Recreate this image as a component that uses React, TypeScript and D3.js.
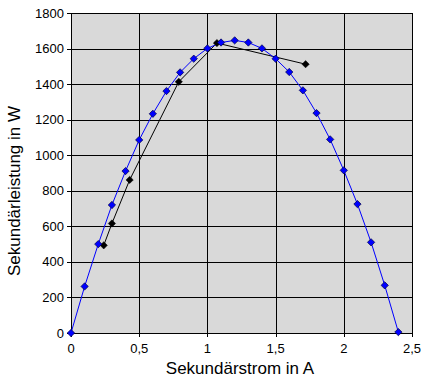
import React from "react";
import * as d3 from "d3";

// Blue series: measured secondary power over current
const blueCurrent = [0, 0.1, 0.2, 0.3, 0.4, 0.5, 0.6, 0.7, 0.8, 0.9, 1.0, 1.1, 1.2, 1.3, 1.4, 1.5, 1.6, 1.7, 1.8, 1.9, 2.0, 2.1, 2.2, 2.3, 2.4];
const bluePower = [0, 262, 500, 720, 911, 1086, 1233, 1361, 1466, 1543, 1601, 1634, 1646, 1634, 1601, 1543, 1468, 1365, 1237, 1089, 915, 725, 510, 268, 5];

// Black series
const blackCurrent = [0.24, 0.3, 0.43, 0.79, 1.07, 1.72];
const blackPower = [493, 616, 861, 1413, 1631, 1512];

const xTicks = [0, 0.5, 1, 1.5, 2, 2.5];
const yTicks = [0, 200, 400, 600, 800, 1000, 1200, 1400, 1600, 1800];

export default function App() {
    const width = 427;
    const height = 382;
    const left = 71;
    const right = 412;
    const top = 13;
    const bottom = 333;

    const x = d3.scaleLinear().domain([0, 2.5]).range([left, right]);
    const y = d3.scaleLinear().domain([0, 1800]).range([bottom, top]);

    const blue = blueCurrent.map((c, i) => [c, bluePower[i]]);
    const black = blackCurrent.map((c, i) => [c, blackPower[i]]);

    const line = d3
        .line()
        .x((d) => x(d[0]))
        .y((d) => y(d[1]));

    const diamond = d3.symbol().type(d3.symbolDiamond2).size(34)();
    const fmt = (v) => String(v).replace(".", ",");

    return (
        <svg
            width={width}
            height={height}
            style={{ position: "absolute", left: 0, top: 0, background: "#fff" }}
            fontFamily="Arial, 'Liberation Sans', sans-serif"
        >
            <rect x={left} y={top} width={right - left} height={bottom - top} fill="#d9d9d9" />

            {/* gridlines */}
            {yTicks.map((t) => (
                <line key={"gy" + t} x1={left} x2={right} y1={Math.round(y(t)) + 0.5} y2={Math.round(y(t)) + 0.5} stroke="#000" />
            ))}
            {xTicks.map((t) => (
                <line key={"gx" + t} y1={top} y2={bottom} x1={Math.round(x(t)) + 0.5} x2={Math.round(x(t)) + 0.5} stroke="#000" />
            ))}
            <rect x={left + 0.5} y={top + 0.5} width={right - left} height={bottom - top} fill="none" stroke="#000" />

            {/* y axis */}
            {yTicks.map((t) => (
                <g key={"ty" + t}>
                    <line x1={left - 4} x2={left} y1={Math.round(y(t)) + 0.5} y2={Math.round(y(t)) + 0.5} stroke="#000" />
                    <text x={left - 7} y={y(t)} dy="0.35em" textAnchor="end" fontSize={13}>
                        {t}
                    </text>
                </g>
            ))}
            {/* x axis */}
            {xTicks.map((t) => (
                <g key={"tx" + t}>
                    <line y1={bottom} y2={bottom + 4} x1={Math.round(x(t)) + 0.5} x2={Math.round(x(t)) + 0.5} stroke="#000" />
                    <text x={x(t)} y={353} textAnchor="middle" fontSize={13}>
                        {fmt(t)}
                    </text>
                </g>
            ))}

            <text x={240} y={374} textAnchor="middle" fontSize={17}>
                Sekundärstrom in A
            </text>
            <text transform="translate(20,191) rotate(-90)" textAnchor="middle" fontSize={17}>
                Sekundärleistung in W
            </text>

            {/* series */}
            <path d={line(black)} fill="none" stroke="#000" strokeWidth={1} />
            <path d={line(blue)} fill="none" stroke="#0000ff" strokeWidth={1} />
            {black.map((d, i) => (
                <path key={"bk" + i} d={diamond} transform={`translate(${x(d[0])},${y(d[1])})`} fill="#000" stroke="#000" strokeWidth={0.5} />
            ))}
            {blue.map((d, i) => (
                <path key={"bl" + i} d={diamond} transform={`translate(${x(d[0])},${y(d[1])})`} fill="#0000ff" stroke="#000040" strokeWidth={0.7} />
            ))}
        </svg>
    );
}
